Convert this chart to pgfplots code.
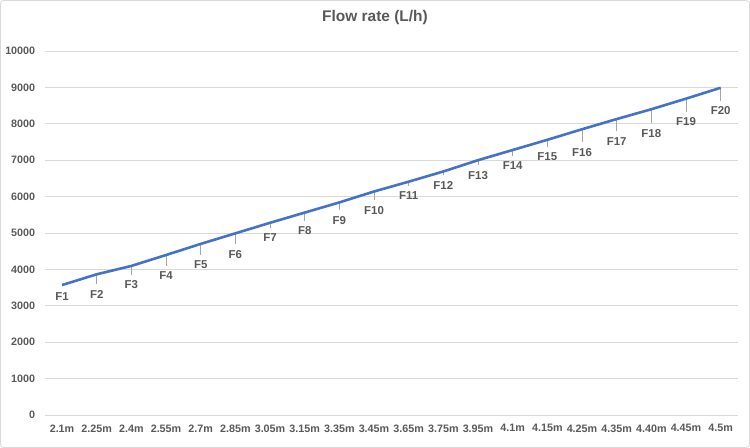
\documentclass[border=0pt]{standalone}
\usepackage{fontspec}
\setmainfont{Liberation Sans}
\usepackage{pgfplots}
\pgfplotsset{compat=1.18}
\usepackage{pgfplotstable}
\definecolor{txt}{HTML}{595959}
\definecolor{gridc}{HTML}{D9D9D9}
\definecolor{linec}{HTML}{4472C4}
\definecolor{lead}{HTML}{A6A6A6}

\pgfplotstableread{
x y off em lab
0 3570 12 0 F1
1 3865 20 275 F2
2 4095 19 247 F3
3 4395 21 302 F4
4 4700 21 302 F5
5 4990 21 302 F6
6 5280 15 137 F7
7 5560 18 220 F8
8 5840 18 220 F9
9 6140 19 247 F10
10 6410 14 110 F11
11 6690 14 110 F12
12 7000 15 137 F13
13 7280 16 165 F14
14 7560 17 192 F15
15 7850 23 357 F16
16 8130 22 330 F17
17 8400 24 385 F18
18 8690 23 357 F19
19 8990 23 357 F20
}\data

\begin{document}
\begin{tikzpicture}
\path[use as bounding box] (0,0) rectangle (750bp,448bp);
\draw[gridc, rounded corners=3bp, line width=0.75bp] (0.5bp,0.5bp) rectangle (749.5bp,447.5bp);
\node[font=\bfseries\fontsize{15.5}{18}\selectfont, text=txt] at (375bp,430bp) {Flow rate (L/h)};
\begin{axis}[
  at={(44.7bp,33bp)}, anchor=south west,
  scale only axis, width=693.3bp, height=364bp,
  xmin=-0.5, xmax=19.5, ymin=0, ymax=10000,
  axis line style={draw=none},
  major tick length=0pt,
  ytick={0,1000,...,10000},
  xtick={0,...,19},
  xticklabels={2.1m,2.25m,2.4m,2.55m,2.7m,2.85m,3.05m,3.15m,3.35m,3.45m,3.65m,3.75m,3.95m,4.1m,4.15m,4.25m,4.35m,4.40m,4.45m,4.5m},
  ymajorgrids,
  grid style={gridc, line width=0.75bp},
  scaled y ticks=false,
  /pgf/number format/assume math mode=true,
  /pgf/number format/1000 sep={},
  tick label style={font=\bfseries\fontsize{10.8}{12}\selectfont, text=txt},
  yticklabel style={xshift=-6bp},
  xticklabel style={yshift=-6bp},
  clip=false,
]
\addplot[draw=none, forget plot,
  error bars/.cd, y dir=minus, y explicit, error mark=none,
  error bar style={draw=lead, line width=0.75bp}]
  table[x=x, y=y, y error minus=em] {\data};
\addplot[linec, line width=2.6bp, mark=none,
  point meta=explicit symbolic,
  visualization depends on={\thisrow{off}\as\off},
  nodes near coords,
  nodes near coords style={anchor=center, yshift=-\off bp, font=\bfseries\fontsize{11.5}{13}\selectfont, text=txt}]
  table[x=x, y=y, meta=lab] {\data};
\end{axis}
\end{tikzpicture}
\end{document}
